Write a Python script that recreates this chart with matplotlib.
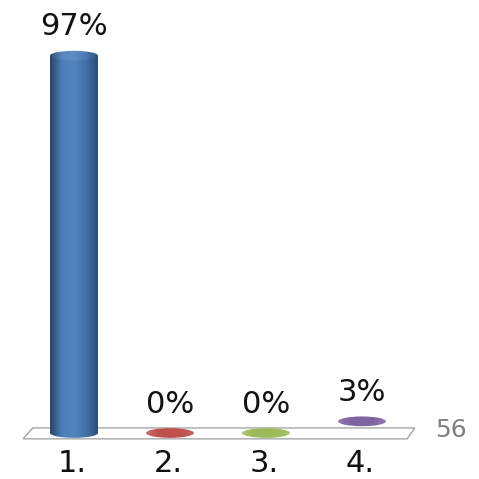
import numpy as np
import matplotlib.pyplot as plt
from matplotlib.patches import Rectangle, Ellipse, Polygon
from matplotlib.colors import LinearSegmentedColormap, to_rgb

# data
categories = ["1.", "2.", "3.", "4."]
values = [97, 0, 0, 3]
labels = ["97%", "0%", "0%", "3%"]
colors = ["#4a7ebb", "#c0504d", "#9bbb59", "#8064a2"]
count_text = "56"

fig = plt.figure(figsize=(4.79, 4.79), dpi=100)
ax = fig.add_axes([0, 0, 1, 1])
ax.axis("off")

W = 0.5      # cylinder width (category units)
EH = 2.5     # ellipse height (percent units)
x = np.arange(len(categories))


def shade(c, f):
    r = np.array(to_rgb(c))
    if f < 1:
        return tuple(r * f)
    return tuple(r + (1 - r) * (f - 1))


def cyl_cmap(c, light=1.0):
    return LinearSegmentedColormap.from_list(
        "c", [shade(c, 0.55 * light), shade(c, 1.0 * light),
              shade(c, 1.12 if light > 1 else 1.05), shade(c, 0.9 * light),
              shade(c, 0.6 * light)])


def flat_cmap(c):
    return LinearSegmentedColormap.from_list(
        "f", [shade(c, 1.15), shade(c, 1.0), shade(c, 1.0), shade(c, 1.0),
              shade(c, 1.15)])


grad = np.linspace(0, 1, 256).reshape(1, -1)

# floor
n = len(categories)
floor = Polygon([(-0.53, -1.5), (n - 1 + 0.47, -1.5),
                 (n - 1 + 0.55, 1.3), (-0.43, 1.3)],
                closed=True, facecolor="white", edgecolor="#a6a6a6",
                lw=1.0, zorder=1)
ax.add_patch(floor)

for xi, v, c, lab, cat in zip(x, values, colors, labels, categories):
    x0, x1 = xi - W / 2, xi + W / 2
    if v >= 5:
        cm = cyl_cmap(c)
        for p in [Ellipse((xi, 0), W, EH), Rectangle((x0, 0), W, v)]:
            p.set_facecolor("none")
            p.set_edgecolor("none")
            ax.add_patch(p)
            im = ax.imshow(grad, cmap=cm, extent=(x0, x1, -EH, v + EH),
                           aspect="auto", zorder=3, interpolation="bilinear")
            im.set_clip_path(p)
        top_cm = cyl_cmap(c, 1.08)
    else:
        top_cm = flat_cmap(c)
    top = Ellipse((xi, v), W, EH, facecolor="none", edgecolor="none")
    ax.add_patch(top)
    im = ax.imshow(grad, cmap=top_cm, extent=(x0, x1, v - EH, v + EH),
                   aspect="auto", zorder=4, interpolation="bilinear")
    im.set_clip_path(top)

    ax.text(xi, v + 5.2, lab, ha="center", va="baseline", fontsize=22,
            color="#111111", zorder=5)
    ax.text(xi - 0.02, -10.0, cat, ha="center", va="baseline", fontsize=22,
            color="#111111", zorder=5)

ax.text(n - 1 + 0.93, 0.8, count_text, ha="center", va="center",
        fontsize=18, color="#7f7f7f")

ax.set_xlim(-74 / 96, 405 / 96)
ax.set_ylim(-46 / 3.89, 433 / 3.89)

fig.savefig("out.png", dpi=100)
